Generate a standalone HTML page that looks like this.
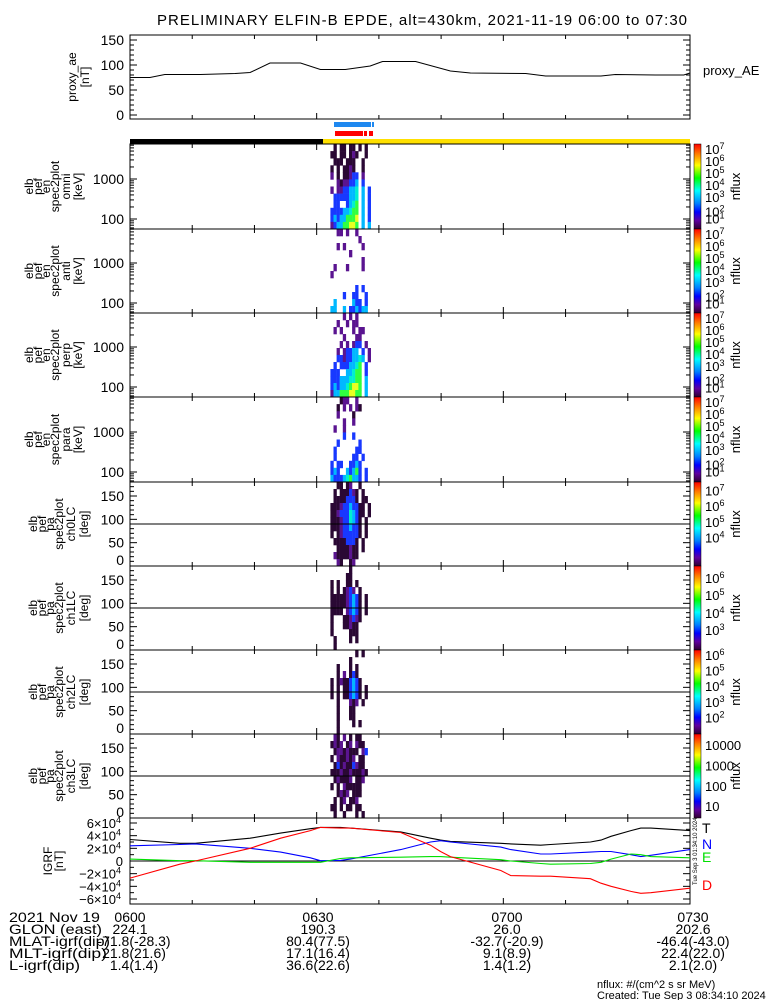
<!DOCTYPE html>
<html><head><meta charset="utf-8"><style>
html,body{margin:0;padding:0;background:#fff;}
svg{display:block;font-family:"Liberation Sans",sans-serif;}
</style></head><body>
<svg id="fig" width="775" height="1000" viewBox="0 0 775 1000" xmlns="http://www.w3.org/2000/svg">
<defs>
<linearGradient id="rainbow" x1="0" y1="0" x2="0" y2="1">
<stop offset="0" stop-color="#ff0000"/><stop offset="0.12" stop-color="#ff8000"/><stop offset="0.25" stop-color="#ffff00"/><stop offset="0.4" stop-color="#00ff00"/><stop offset="0.55" stop-color="#00ffff"/><stop offset="0.7" stop-color="#0080ff"/><stop offset="0.8" stop-color="#0000ff"/><stop offset="0.9" stop-color="#6000a0"/><stop offset="1" stop-color="#300030"/>
</linearGradient>
</defs>
<text x="157" y="25" font-size="15" textLength="530">PRELIMINARY ELFIN-B EPDE, alt=430km, 2021-11-19 06:00 to 07:30</text>
</svg>
<script>
// ---- data ----
const aeTimes = [0,3.2,5.6,11.3,16.9,19.3,22.5,27.4,30.6,34.6,38.6,40.6,45.9,51.5,54.7,63.6,66.8,75.7,78,84.5,89,90];
const aeValues = [75,75,81,81,83,85,104,104,91,91,98,107,107,88,84,83,78,78,81,80,80,84];
const igrfTimes = [0,8,10.5,19.3,24.2,29,30.6,33.8,35.4,43.5,48.3,49.9,51.5,59.6,61.2,66,67.6,74,75.7,77.3,80.5,82.1,83.7,90];
const igrfT = [3.4,2.8,2.8,3.6,4.4,5.1,5.3,5.3,5.2,4.6,3.6,3.3,3.1,2.8,2.7,2.5,2.6,3.0,3.3,3.9,4.8,5.2,5.2,4.8];
const igrfN = [2.4,2.6,2.7,2.0,1.4,0.5,0.05,0.1,0.3,1.8,3.0,3.2,3.0,2.2,1.8,1.1,1.1,1.4,1.5,1.5,1.0,0.7,0.9,1.8];
const igrfE = [0.3,0.05,0.05,-0.2,-0.2,-0.2,-0.2,0.4,0.5,0.6,0.7,0.7,0.6,0.2,0.0,-0.4,-0.5,-0.4,-0.2,0.3,1.1,1.0,0.7,0.5];
const igrfD = [-2.7,-0.5,0.0,2.0,3.6,4.8,5.3,5.2,5.2,4.5,2.5,1.5,0.7,-1.5,-2.3,-2.4,-2.4,-2.8,-3.5,-4.0,-4.8,-5.1,-5.0,-4.3];
const tickTimes = [0,30,60,90];
const tickLabels = ['0600','0630','0700','0730'];
const glonVals = ['224.1','190.3','26.0','202.6'];
const mlatVals = ['-71.8(-28.3)','80.4(77.5)','-32.7(-20.9)','-46.4(-43.0)'];
const mltVals = ['21.8(21.6)','17.1(16.4)','9.1(8.9)','22.4(22.0)'];
const lVals = ['1.4(1.4)','36.6(22.6)','1.4(1.2)','2.1(2.0)'];
const specT0 = 32.2, specDT = 0.5;
const omniGrid = [".k.kk.kk.k.k.","kk.kk.kpk..k.",".kkk.kkk..k..","k.k.kkpk..k..","p.k.kkpbb.p..","..pkppbbc.b..","p.ppbbcct.c.b",".bbbbbcct.c.b",".bb..bctg.c.b","bbbbcctgg.c.b","bcbccgggy.c.b","pbccggyyg.c.c"];
const antiGrid = ["..pp.p..p....",".........p...","..p.p.....p..","......p......","..........p..",".p...p....p..","p............",".............","........b.b..","....b..bb..b.",".c.....cbb.b.","cc..c.bbcbcc."];
const perpGrid = ["....p.p.p....","..p..p.pp....",".p.p...p.pp..","....p...pp...","...p.p.pbb.p.","..p.pbbcc.b.p","..bbpbbcctc.p",".b.bbbcctg.b.","bbb..cctgg.b.","bbbcccttgg.c.","bcbcctgyyg.c.","pccgggyygg.c."];
const paraGrid = ["...kpp..p....","..k.p.p.pk...","..p....k.....","....p..p.....",".p..p........","....b..b.....","..b......b...",".b......bb...",".b.....bb.b..","b.bb..bbcb...","bcb..cbcgb.b.","cbbbctgccb.b."];
const ch0Grid = ["..kk.kp..k...",".k.kkkbpk.k..",".kkkkbbbk.kk.","kkkpbbcbbkk.k","kkpbbbtcbkk.k","kkkpbbtcbk.k.","kkkpbbcbbk.k.","k.kpbbbbbk.k.",".kkkkbbbk.k..","..kkkkpkk.k..",".pkkkkpkk....","..pk..kp....."];
const ch1Grid = ["......k......",".....kk......","k.k..kk.k....","k.k.kpbp.k...","kkkkkpbcbk.k.","kkkkkpbcbk.k.","kkkk.pbcbk.k.","k...kkpbpk...","k...kkpkk....","k.....kkk....",".k....k.k....",".k..........."];
const ch2Grid = ["........k.k..","......k......","..k...k.k....","..k.p.kbk....","k.kpkkbcbk...","k.k.kkbcbk.k.","k.k.kkbcbk.k.","..k...pkp.k..","..k...kk.....","..k...kk.....","..k....k.k...","..k.........."];
const ch3Grid = [".pk.p.k.kk...","kpkp.kp.pkk..",".kppkpkkk.pb.","k.pkkpkp.kk..",".kbkpkkbpkk..","kkkpkkpkkkpk.",".kpkkkp.kkp..","k.k.pkkkkk...","..kpkp.kkk...",".k.kp.kkp....","kk.k.kk.kk...",".k..k...k.k.."];
const cellColors = {k:'#2a0834',p:'#5a1490',b:'#1838ff',c:'#00b8ff',t:'#00f0d0',g:'#30ff40',y:'#e8ff20'};

// ---- layout ----
const X0=130, X1=690;
const svg=document.getElementById('fig');
const NS='http://www.w3.org/2000/svg';
function xT(t){return X0+(X1-X0)*t/90;}
function mk(tag,attrs,parent,text){const e=document.createElementNS(NS,tag);for(const k in attrs)e.setAttribute(k,attrs[k]);if(text!==undefined)e.textContent=text;(parent||svg).appendChild(e);return e;}
function line(x1,y1,x2,y2,c,w,p){return mk('line',{x1,y1,x2,y2,stroke:c||'#000','stroke-width':w||1},p);}

function timeTicks(g,top,bot){
  for(let t=10;t<90;t+=10){
    const L=(t%30===0)?6:4;
    line(xT(t),bot,xT(t),bot-L,'#000',1,g);
    line(xT(t),top,xT(t),top+L,'#000',1,g);
  }
}
function leftLabel(g,lines,xs,cy){
  lines.forEach((s,i)=>{const t=mk('text',{x:xs[i],y:cy,'font-size':12,'text-anchor':'middle',transform:`rotate(-90 ${xs[i]} ${cy})`},g,s);
    
    });
}

// ---- proxy AE panel ----
const aeG=mk('g',{});


const aeTop=35, aeBot=119;
function yAE(v){return 115-v*0.5;}
mk('rect',{x:X0,y:aeTop,width:X1-X0,height:aeBot-aeTop,fill:'none',stroke:'#000'},aeG);
for(let v=0;v<=150;v+=10){const L=v%50===0?7:4;line(X0,yAE(v),X0+L,yAE(v),'#000',1,aeG);line(X1,yAE(v),X1-L,yAE(v),'#000',1,aeG);}
[0,50,100,150].forEach(v=>{const t=mk('text',{x:124,y:yAE(v)+5,'font-size':14,'text-anchor':'end'},aeG,String(v));
  
  });
timeTicks(aeG,aeTop,aeBot);
{let d='';aeTimes.forEach((t,i)=>{d+=(i?'L':'M')+xT(t).toFixed(1)+' '+yAE(aeValues[i]).toFixed(1);});
 const p=mk('path',{d,fill:'none',stroke:'#000','stroke-width':1},aeG);
 
 }
leftLabel(aeG,['proxy_ae','[nT]'],[76,89],77);
{const t=mk('text',{x:703,y:75,'font-size':13},aeG,'proxy_AE');
 
 }

// ---- status bars ----
{const r=mk('rect',{x:334,y:122,width:37,height:5,fill:'#1e88f0'});
 
 
 const r2=mk('rect',{x:372,y:122,width:2,height:5,fill:'#1e88f0'});
 
 
 [[335,28],[364,3],[369,4]].forEach(a=>{const q=mk('rect',{x:a[0],y:131,width:a[1],height:5,fill:'#ff0000'});
  
  });
 const b=mk('rect',{x:X0,y:139,width:193,height:5,fill:'#000'});
 
 
 const yb=mk('rect',{x:323,y:139,width:X1-323,height:5,fill:'#ffe000'});
 
 }

// ---- spectrogram panels ----
const panels=[
 {top:144,bot:229,grid:omniGrid,type:'en',name:'omni',cb:[['7',0],['6',1],['5',2],['4',3],['3',4],['2',5.2],['1',5.8]]},
 {top:229,bot:313,grid:antiGrid,type:'en',name:'anti',cb:[['7',0],['6',1],['5',2],['4',3],['3',4],['2',5.2],['1',5.8]]},
 {top:313,bot:397,grid:perpGrid,type:'en',name:'perp',cb:[['7',0],['6',1],['5',2],['4',3],['3',4],['2',5.2],['1',5.8]]},
 {top:397,bot:482,grid:paraGrid,type:'en',name:'para',cb:[['7',0],['6',1],['5',2],['4',3],['3',4],['2',5.2],['1',5.8]]},
 {top:482,bot:566,grid:ch0Grid,type:'pa',name:'ch0LC',cb:[['7',0.3],['6',1.6],['5',2.9],['4',4.2]]},
 {top:566,bot:650,grid:ch1Grid,type:'pa',name:'ch1LC',cb:[['6',0.6],['5',2],['4',3.5],['3',4.9]]},
 {top:650,bot:734,grid:ch2Grid,type:'pa',name:'ch2LC',cb:[['6',0],['5',1.3],['4',2.6],['3',3.9],['2',5.2]]},
 {top:734,bot:818,grid:ch3Grid,type:'pa',name:'ch3LC',cb:[['10000',0.5],['1000',2.2],['100',3.9],['10',5.6]]}
];
panels.forEach((P,pi)=>{
  const g=mk('g',{});
  
  
  const H=P.bot-P.top, nR=P.grid.length, rh=H/nR;
  P.grid.forEach((row,ri)=>{
    for(let ci=0;ci<row.length;ci++){const ch=row[ci];if(ch==='.')continue;
      const x=xT(specT0+ci*specDT);
      const c=mk('rect',{x:x.toFixed(1),y:(P.top+ri*rh).toFixed(1),width:(xT(specDT)-X0).toFixed(1)*1+0.2,height:(rh+0.3).toFixed(1),fill:cellColors[ch]},g);
      
      }
  });
  mk('rect',{x:X0,y:P.top,width:X1-X0,height:H,fill:'none',stroke:'#000'},g);
  timeTicks(g,P.top,P.bot);
  if(P.type==='en'){
    const yE=v=>P.bot-10-(Math.log10(v)-2)*40;
    for(let dec=1;dec<=3;dec++)for(let m=1;m<10;m++){const v=m*Math.pow(10,dec);const y=yE(v);if(y<P.top||y>P.bot)continue;
      const L=m===1?7:4;line(X0,y,X0+L,y,'#000',1,g);line(X1,y,X1-L,y,'#000',1,g);}
    [[100,'100'],[1000,'1000']].forEach(a=>{const t=mk('text',{x:124,y:yE(a[0])+5,'font-size':14,'text-anchor':'end'},g,a[1]);
      
      });
    leftLabel(g,['elb','pef','en','spec2plot',P.name,'[keV]'],[33,42,50,59,70,82],(P.top+P.bot)/2);
  } else {
    const yP=d=>P.bot-d/180*H;
    for(let d=0;d<=180;d+=10){const L=d%50===0?7:4;line(X0,yP(d),X0+L,yP(d),'#000',1,g);line(X1,yP(d),X1-L,yP(d),'#000',1,g);}
    line(X0,yP(90),X1,yP(90),'#000',1,g);
    [0,50,100,150].forEach(d=>{const t=mk('text',{x:124,y:(d===0?P.bot-1:yP(d)+5),'font-size':14,'text-anchor':'end'},g,String(d));
      
      });
    leftLabel(g,['elb','pef','pa','spec2plot',P.name,'[deg]'],[37,46,54,63,75,88],(P.top+P.bot)/2);
  }
  const cb=mk('rect',{x:694,y:P.top,width:7,height:H,fill:'url(#rainbow)',stroke:'#000','stroke-width':0.5},g);
  
  
  P.cb.forEach(a=>{const y=P.top+10+a[1]*12;
    if(a[0].length>1){const t=mk('text',{x:705,y:y,'font-size':13},g,a[0]);
      
      }
    else{const t=mk('text',{x:705,y:y,'font-size':13},g,'10');
      
      
      mk('tspan',{dy:-5,'font-size':9},t,a[0]);}
  });
  const nf=mk('text',{x:740,y:(P.top+P.bot)/2,'font-size':13,'text-anchor':'middle',transform:`rotate(-90 740 ${(P.top+P.bot)/2})`},g,'nflux');
  
  
});

// ---- IGRF panel ----
const ig=mk('g',{});


const igTop=818, igBot=904;
function yI(v){return 861-v*38/6;}
mk('rect',{x:X0,y:igTop,width:X1-X0,height:igBot-igTop,fill:'none',stroke:'#000'},ig);
line(X0,yI(0),X1,yI(0),'#000',1,ig);
for(let v=-6;v<=6;v+=1){const L=v%2===0?7:4;line(X0,yI(v),X0+L,yI(v),'#000',1,ig);line(X1,yI(v),X1-L,yI(v),'#000',1,ig);}
timeTicks(ig,igTop,igBot);
[6,4,2,0,-2,-4,-6].forEach(v=>{
  const t=mk('text',{x:v===0?123:121,y:yI(v)+5,'font-size':13,'text-anchor':'end'},ig,v===0?'0':(v<0?'−':'')+Math.abs(v)+'×10');
  
  
  if(v!==0)mk('tspan',{dy:-5,'font-size':9},t,'4');
});
[[igrfT,'#000','T','igrf-t-line'],[igrfN,'#0000ff','N','igrf-n-line'],[igrfE,'#00e000','E','igrf-e-line'],[igrfD,'#ff0000','D','igrf-d-line']].forEach(s=>{
  let d='';igrfTimes.forEach((t,i)=>{d+=(i?'L':'M')+xT(t).toFixed(1)+' '+yI(s[0][i]).toFixed(1);});
  const p=mk('path',{d,fill:'none',stroke:s[1],'stroke-width':1.1},ig);
  
  
});
[['T','#000',833],['N','#0000ff',849],['E','#00e000',862],['D','#ff0000',890]].forEach(a=>{
  const t=mk('text',{x:702,y:a[2],'font-size':14,fill:a[1]},ig,a[0]);
  
  });
leftLabel(ig,['IGRF','[nT]'],[52,63],861);
{const t=mk('text',{x:697,y:885,'font-size':6,transform:'rotate(-90 697 885)'},ig,'Tue Sep  3 01:34:10 2024');
 
 }

// ---- footer ----
const ft=mk('g',{'font-size':14});


const rowY=[922,934,946,958,970];
const rowNames=['2021 Nov 19','GLON (east)','MLAT-igrf(dip)','MLT-igrf(dip)','L-igrf(dip)'];
const rowLens=[91,93,101,98,71];
const rowVals=[tickLabels,glonVals,mlatVals,mltVals,lVals];
const colX=[130,318,507,693];
rowNames.forEach((n,i)=>{
  const t=mk('text',{x:9,y:rowY[i],textLength:rowLens[i],lengthAdjust:'spacingAndGlyphs'},ft,n);
  
  
  rowVals[i].forEach((v,j)=>{const c=mk('text',{x:colX[j]+(j===0&&i>1?4:0),y:rowY[i],'text-anchor':'middle'},ft,v);
    
    });
});
{const a=mk('text',{x:597,y:988,'font-size':11},ft,'nflux: #/(cm^2 s sr MeV)');
 
 
 const b=mk('text',{x:597,y:999,'font-size':11},ft,'Created: Tue Sep  3 08:34:10 2024');
 
 }
</script>
</body></html>
